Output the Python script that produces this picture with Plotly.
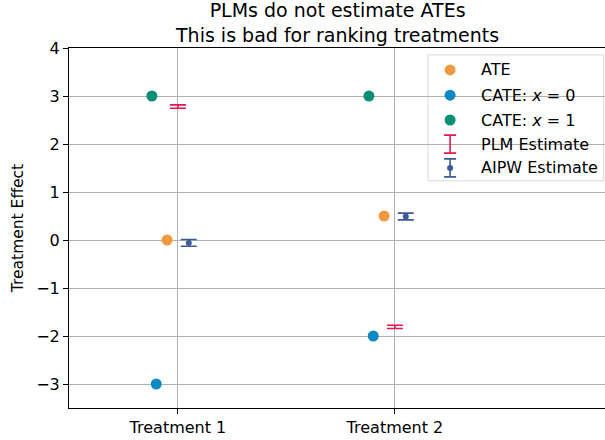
import plotly.graph_objects as go

treatments = ["Treatment 1", "Treatment 2"]
ate = [0.0, 0.5]
cate_x0 = [-3.0, -2.0]
cate_x1 = [3.0, 3.0]
plm_est = [2.78, -1.81]
plm_err = [0.035, 0.035]
aipw_est = [-0.06, 0.49]
aipw_err = [0.07, 0.07]

# horizontal offsets (dodging) per series
off_cate1, off_ate, off_cate0, off_plm, off_aipw = -0.12, -0.05, -0.10, 0.0, 0.05

C_ATE = "#EF9A3F"
C_C0 = "#0C89C1"
C_C1 = "#0A8F77"
C_PLM = "#E2194F"
C_AIPW = "#3C5B98"

FONT = "DejaVu Sans"
pos = list(range(len(treatments)))

fig = go.Figure()

def shifted(o):
    return [p + o for p in pos]

fig.add_trace(go.Scatter(x=shifted(off_ate), y=ate, mode="markers",
                         marker=dict(color=C_ATE, size=11), showlegend=False))
fig.add_trace(go.Scatter(x=shifted(off_cate0), y=cate_x0, mode="markers",
                         marker=dict(color=C_C0, size=11), showlegend=False))
fig.add_trace(go.Scatter(x=shifted(off_cate1), y=cate_x1, mode="markers",
                         marker=dict(color=C_C1, size=11), showlegend=False))
fig.add_trace(go.Scatter(x=shifted(off_plm), y=plm_est, mode="markers",
                         marker=dict(color=C_PLM, size=0, opacity=0),
                         error_y=dict(type="data", array=plm_err, color=C_PLM,
                                      thickness=1.6, width=8),
                         showlegend=False))
fig.add_trace(go.Scatter(x=shifted(off_aipw), y=aipw_est, mode="markers",
                         marker=dict(color=C_AIPW, size=6),
                         error_y=dict(type="data", array=aipw_err, color=C_AIPW,
                                      thickness=1.6, width=8),
                         showlegend=False))

# manual legend (matplotlib style) on an overlay axis in plot-fraction units
leg_labels = ["ATE", "CATE: <i>x</i> = 0", "CATE: <i>x</i> = 1", "PLM Estimate", "AIPW Estimate"]
leg_y = [0.939, 0.869, 0.800, 0.733, 0.667]
gx, tx = 0.711, 0.765
for i, c in enumerate([C_ATE, C_C0, C_C1]):
    fig.add_trace(go.Scatter(x=[gx], y=[leg_y[i]], mode="markers", xaxis="x2", yaxis="y2",
                             marker=dict(color=c, size=11), showlegend=False, hoverinfo="skip"))
fig.add_trace(go.Scatter(x=[gx], y=[leg_y[3]], mode="markers", xaxis="x2", yaxis="y2",
                         marker=dict(color=C_PLM, size=0, opacity=0),
                         error_y=dict(type="data", array=[0.025], color=C_PLM, thickness=1.6, width=6),
                         showlegend=False, hoverinfo="skip"))
fig.add_trace(go.Scatter(x=[gx], y=[leg_y[4]], mode="markers", xaxis="x2", yaxis="y2",
                         marker=dict(color=C_AIPW, size=6),
                         error_y=dict(type="data", array=[0.025], color=C_AIPW, thickness=1.6, width=6),
                         showlegend=False, hoverinfo="skip"))
for lab, yy in zip(leg_labels, leg_y):
    fig.add_annotation(x=tx, y=yy, xref="x2", yref="y2", text=lab, showarrow=False,
                       xanchor="left", yanchor="middle", font=dict(family=FONT, size=16, color="black"))
fig.add_shape(type="rect", xref="x2", yref="y2", x0=0.670, x1=0.997, y0=0.631, y1=0.981,
              line=dict(color="#d9d9d9", width=1), fillcolor="rgba(255,255,255,0.8)", layer="below")

# title as a centered annotation above the plot area
fig.add_annotation(x=0.5, y=1.071, xref="paper", yref="paper", xanchor="center", yanchor="middle",
                   text="PLMs do not estimate ATEs<br>This is bad for ranking treatments",
                   showarrow=False, font=dict(family=FONT, size=19, color="black"))

fig.update_layout(
    width=605, height=440,
    margin=dict(l=69, r=0, t=48, b=32),
    plot_bgcolor="white", paper_bgcolor="white",
    font=dict(family=FONT, size=15, color="black"),
    xaxis=dict(range=[-0.502, 1.968], tickvals=pos, ticktext=treatments,
               tickfont=dict(family=FONT, size=16),
               showgrid=True, gridcolor="#b0b0b0", gridwidth=1,
               showline=True, linecolor="black", linewidth=1, mirror=True,
               ticks="outside", ticklen=5, tickcolor="black", zeroline=False),
    yaxis=dict(range=[-3.5, 4], tickvals=list(range(-3, 5)),
               tickfont=dict(family=FONT, size=16),
               showgrid=True, gridcolor="#b0b0b0", gridwidth=1,
               showline=True, linecolor="black", linewidth=1,
               ticks="outside", ticklen=5, tickcolor="black", zeroline=False,
               title=dict(text="Treatment Effect", standoff=8, font=dict(family=FONT, size=15.5))),
    xaxis2=dict(overlaying="x", range=[0, 1], visible=False),
    yaxis2=dict(overlaying="y", range=[0, 1], visible=False),
)

fig.write_html("out.html")
